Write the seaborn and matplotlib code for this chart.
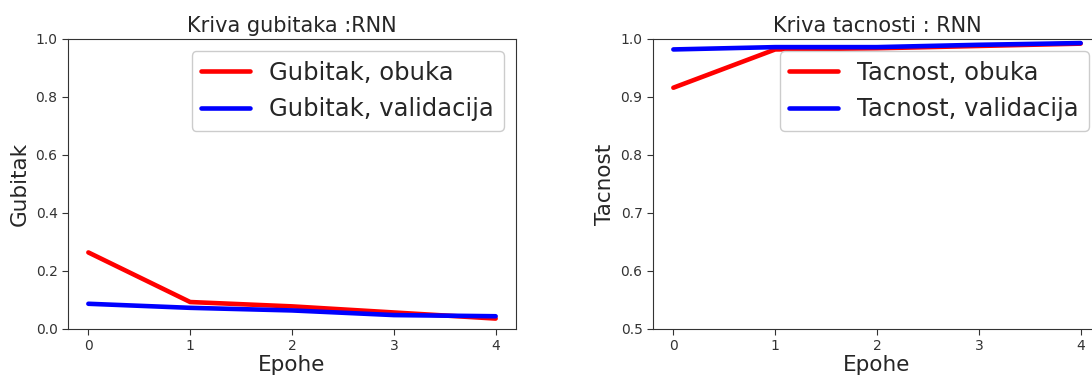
import matplotlib
matplotlib.use("Agg")
import matplotlib.pyplot as plt
import seaborn as sns
import pandas as pd

# --- DATA ---
epochs = [0, 1, 2, 3, 4]
loss_train = [0.264, 0.093, 0.078, 0.057, 0.036]
loss_val = [0.087, 0.073, 0.064, 0.048, 0.044]
acc_train = [0.916, 0.982, 0.984, 0.988, 0.992]
acc_val = [0.982, 0.986, 0.986, 0.990, 0.993]

sns.set_style("ticks")
plt.rcParams['font.family'] = ['DejaVu Sans']

W, H = 1092, 378
fig = plt.figure(figsize=(W / 100, H / 100), dpi=100)

# axes boxes in pixels: left, bottom, width, height
# right panel runs past the image edge, like the cropped original
ax1 = fig.add_axes([68 / W, 49 / H, 448 / W, 290 / H])
ax2 = fig.add_axes([653 / W, 49 / H, 448 / W, 290 / H])


def draw(ax, train, val, lab_train, lab_val, ylabel, title, ylim):
    df = pd.DataFrame({"epoha": epochs, "train": train, "val": val})
    sns.lineplot(data=df, x="epoha", y="train", ax=ax, color="red", lw=3.3, label=lab_train)
    sns.lineplot(data=df, x="epoha", y="val", ax=ax, color="blue", lw=3.3, label=lab_val)
    ax.set_xlim(-0.2, 4.2)
    ax.set_ylim(*ylim)
    ax.set_xticks(epochs)
    ax.set_xlabel("Epohe", fontsize=15.5, labelpad=1)
    ax.set_ylabel(ylabel, fontsize=15.5)
    ax.set_title(title, fontsize=15, pad=5)
    ax.tick_params(labelsize=10, colors="#333333", length=4)
    for s in ax.spines.values():
        s.set_color("#333333")
    ax.legend(loc="upper right", fontsize=17.5, handlelength=2.0, framealpha=1)


draw(ax1, loss_train, loss_val, "Gubitak, obuka", "Gubitak, validacija",
     "Gubitak", "Kriva gubitaka :RNN", (0.0, 1.0))
draw(ax2, acc_train, acc_val, "Tacnost, obuka", "Tacnost, validacija",
     "Tacnost", "Kriva tacnosti : RNN", (0.5, 1.0))

fig.savefig("out.png", dpi=100)
